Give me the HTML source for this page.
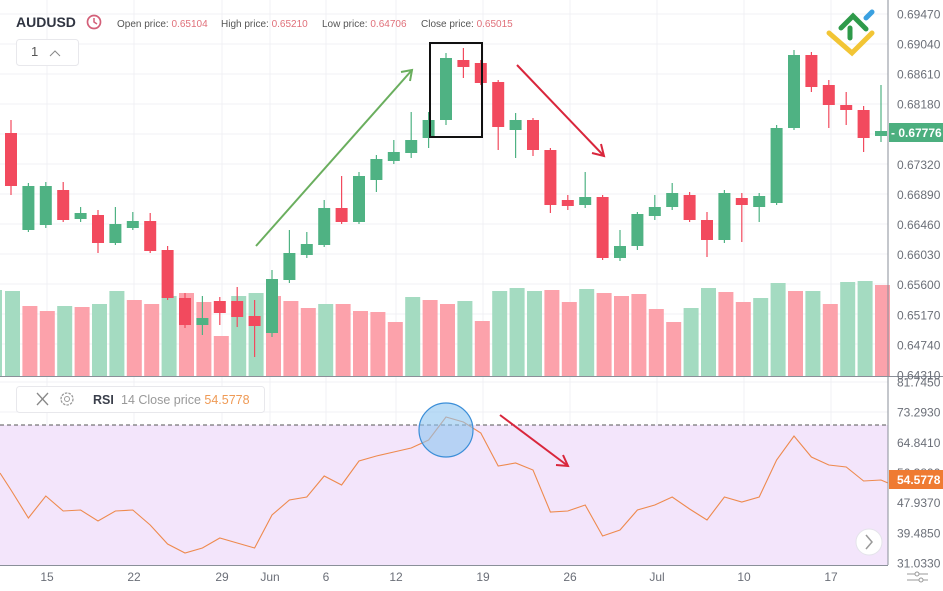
<!DOCTYPE html>
<html><head><meta charset="utf-8"><style>
body{margin:0;background:#fff;width:943px;height:591px;overflow:hidden;font-family:"Liberation Sans",sans-serif}
svg{display:block}
</style></head><body>
<svg id="s" width="943" height="591" xmlns="http://www.w3.org/2000/svg" font-family="Liberation Sans, sans-serif">
<rect width="943" height="591" fill="#fff"/>
<g id="grid" stroke="#f0f1f4" stroke-width="1"></g>
<rect x="0" y="425" width="888" height="140" fill="#f3e5fb"/>
<line x1="0" y1="425" x2="888" y2="425" stroke="#555" stroke-dasharray="4,3" stroke-width="1"/>
<g id="vol"></g>
<g id="cand"></g>
<polyline id="rsi" fill="none" stroke="#ee8a4e" stroke-width="1.1"/>
<line x1="888" y1="0" x2="888" y2="565" stroke="#8a8f99"/>
<line x1="0" y1="376.5" x2="943" y2="376.5" stroke="#8a8f99"/>
<line x1="0" y1="565.5" x2="888" y2="565.5" stroke="#8a8f99"/>
<g id="lab" font-size="12" fill="#6b6f78"></g>
<g stroke="#6aae5e" stroke-width="2" fill="none"><line x1="256" y1="246" x2="412" y2="70"/><polyline points="401,72 412,70 410,81"/></g>
<rect x="430" y="43" width="52" height="94" fill="none" stroke="#111" stroke-width="2"/>
<g stroke="#d9263c" stroke-width="2" fill="none"><line x1="517" y1="65" x2="604" y2="156"/><polyline points="592,153 604,156 601,144"/></g>
<circle cx="446" cy="430" r="27" fill="#8ec5f0" fill-opacity="0.6" stroke="#3b8ed8" stroke-width="1.2"/>
<g stroke="#d9263c" stroke-width="2" fill="none"><line x1="500" y1="415" x2="568" y2="466"/><polyline points="556,465 568,466 563,455"/></g>
<rect x="889" y="123" width="54" height="19" fill="#4caf7f"/>
<text x="891" y="137" font-size="12" font-weight="bold" fill="#fff">- 0.67776</text>
<rect x="889" y="470" width="54" height="19" fill="#ef7b32"/>
<text x="897" y="484" font-size="12" font-weight="bold" fill="#fff">54.5778</text>
<text x="16" y="27" font-size="14" font-weight="bold" fill="#2f3441">AUDUSD</text>
<circle cx="94" cy="22" r="6.5" fill="none" stroke="#d35f78" stroke-width="1.7"/>
<path d="M94 18v4l3 2" stroke="#d35f78" stroke-width="1.5" fill="none"/>
<text x="117" y="27" font-size="10" fill="#555">Open price: <tspan fill="#e0707a">0.65104</tspan></text>
<text x="221" y="27" font-size="10" fill="#555">High price: <tspan fill="#e0707a">0.65210</tspan></text>
<text x="322" y="27" font-size="10" fill="#555">Low price: <tspan fill="#e0707a">0.64706</tspan></text>
<text x="421" y="27" font-size="10" fill="#555">Close price: <tspan fill="#e0707a">0.65015</tspan></text>
<rect x="16.5" y="39.5" width="62" height="26" rx="3" fill="#fff" stroke="#e8e8ec"/>
<text x="31" y="56" font-size="13" fill="#555">1</text>
<polyline points="50,56 55,51 60,56" fill="none" stroke="#888" stroke-width="1"/>
<rect x="16.5" y="386.5" width="248" height="26" rx="3" fill="#fff" stroke="#e8e8ec"/>
<g stroke="#888" stroke-width="1.3"><line x1="37" y1="393" x2="48" y2="405"/><line x1="48" y1="393" x2="37" y2="405"/></g>
<circle cx="67" cy="399" r="6" fill="none" stroke="#999" stroke-width="1.3" stroke-dasharray="2.5,1.2"/><circle cx="67" cy="399" r="2.5" fill="none" stroke="#999"/>
<text x="93" y="404" font-size="12.5" font-weight="bold" fill="#3a3f4b">RSI</text>
<text x="121" y="404" font-size="12.5" fill="#999">14 Close price <tspan fill="#ef9a55">54.5778</tspan></text>
<g stroke-linecap="round" fill="none">
<polyline points="829,33 852,53 872,33" stroke="#f2c535" stroke-width="5"/>
<polyline points="841,28 853,16 866,29" stroke="#2e9a4a" stroke-width="5"/>
<line x1="850" y1="28" x2="850" y2="38" stroke="#2e9a4a" stroke-width="5"/>
<line x1="866" y1="18" x2="872" y2="12" stroke="#3aa0e0" stroke-width="5"/>
</g>
<circle cx="869" cy="542" r="13" fill="#fff" stroke="#e4e4ea"/>
<polyline points="866,535 872,542 866,549" fill="none" stroke="#999" stroke-width="1.5"/>
<g stroke="#999" stroke-width="1"><line x1="907" y1="574" x2="928" y2="574"/><line x1="907" y1="580" x2="928" y2="580"/><circle cx="917" cy="574" r="2" fill="#fff"/><circle cx="921" cy="580" r="2" fill="#fff"/></g>
</svg>
<script>
const NS="http://www.w3.org/2000/svg";
function el(p,t,a,txt){const e=document.createElementNS(NS,t);for(const k in a)e.setAttribute(k,a[k]);if(txt)e.textContent=txt;document.getElementById(p).appendChild(e);return e;}
const G="#4fb283",R="#f24a5e",GV="#a4dbc1",RV="#fca2ab";
const xs=[47,134,222,270,326,396,483,570,657,744,831];
xs.forEach(x=>el("grid","line",{x1:x,y1:0,x2:x,y2:565}));
const py=[14,44,74,104,134,164,194,224,254,284,314,344];
py.forEach(y=>el("grid","line",{x1:0,y1:y,x2:888,y2:y}));
[382,412,442,473,503,533,563].forEach(y=>el("grid","line",{x1:0,y1:y,x2:888,y2:y}));
const pl=["0.69470","0.69040","0.68610","0.68180","0.67750","0.67320","0.66890","0.66460","0.66030","0.65600","0.65170","0.64740","0.64310"];
pl.forEach((t,i)=>{if(i==4)return;el("lab","text",{x:897,y:14+i*30.08+4.5},t)});
["81.7450","73.2930","64.8410","56.3890","47.9370","39.4850","31.0330"].forEach((t,i)=>el("lab","text",{x:897,y:382+i*30.15+4.5},t));
const xl=["15","22","29","Jun","6","12","19","26","Jul","10","17"];
xl.forEach((t,i)=>el("lab","text",{x:xs[i],y:581,"text-anchor":"middle"},t));
const C=[[133,186,120,195,R],[186,230,183,232,G],[186,225,182,228,G],[190,220,182,222,R],[213,219,207,222,G],[215,243,210,253,R],[224,243,207,245,G],[221,228,212,230,G],[221,251,213,253,R],[250,298,246,300,R],[298,325,293,328,R],[318,325,296,335,G],[301,313,297,325,R],[301,317,287,327,R],[316,326,300,357,R],[279,333,270,337,G],[253,280,230,283,G],[244,255,232,258,G],[208,245,200,247,G],[208,222,176,224,R],[176,222,172,224,G],[159,180,155,192,G],[152,161,140,164,G],[140,153,112,158,G],[120,138,112,148,G],[58,120,53,125,G],[60,67,48,78,R],[63,83,60,85,R],[82,127,80,150,R],[120,130,113,158,G],[120,150,118,156,R],[150,205,148,213,R],[200,206,195,210,R],[197,205,172,208,G],[197,258,195,260,R],[246,258,230,261,G],[214,246,212,250,G],[207,216,195,220,G],[193,207,183,210,G],[195,220,192,222,R],[220,240,212,257,R],[193,240,190,243,G],[198,205,193,242,R],[196,207,193,222,G],[128,203,125,205,G],[55,128,50,130,G],[55,87,52,92,R],[85,105,80,128,R],[105,110,92,125,R],[110,138,106,152,R],[131,136,85,142,G]];
const V=[[291,G],[306,R],[311,R],[306,G],[307,R],[304,G],[291,G],[300,R],[304,R],[296,G],[293,R],[302,R],[336,R],[296,G],[293,G],[296,R],[301,R],[308,R],[304,G],[304,R],[311,R],[312,R],[322,R],[297,G],[300,R],[304,R],[301,G],[321,R],[291,G],[288,G],[291,G],[290,R],[302,R],[289,G],[293,R],[296,R],[294,R],[309,R],[322,R],[308,G],[288,G],[292,R],[302,R],[298,G],[283,G],[291,R],[291,G],[304,R],[282,G],[281,G],[285,R]];
el("vol","rect",{x:-13,y:290,width:15,height:86,fill:GV});
V.forEach((v,i)=>{const x=5+17.4*i;el("vol","rect",{x:x,y:v[0],width:15,height:376-v[0],fill:v[1]==G?GV:RV})});
C.forEach((c,i)=>{const cx=11+17.4*i;const t=Math.min(c[0],c[1]),b=Math.max(c[0],c[1]);
el("cand","line",{x1:cx,y1:c[2],x2:cx,y2:c[3],stroke:c[4],"stroke-width":1.2});
el("cand","rect",{x:cx-6,y:t,width:12,height:Math.max(b-t,3),fill:c[4]});});
const RY=[490,518,496,511,510,521,511,510,525,544,553,548,538,543,548,515,500,497,476,485,461,456,452,448,440,417,422,433,466,463,470,512,511,505,536,530,510,505,497,509,520,497,502,497,460,436,457,465,467,481,480];
let pts="0,473 ";RY.forEach((y,i)=>pts+=(11+17.4*i).toFixed(1)+","+y+" ");pts+="888,483";
document.getElementById("rsi").setAttribute("points",pts);
</script>
</body></html>
